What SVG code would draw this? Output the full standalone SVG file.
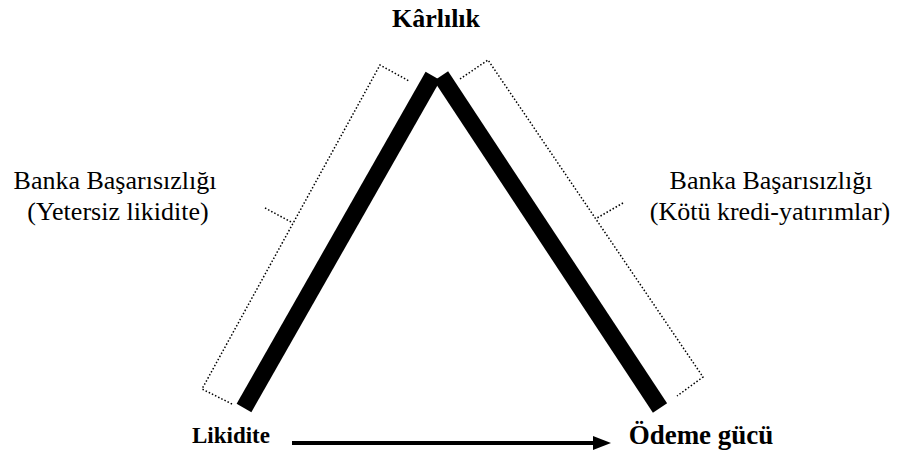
<svg xmlns="http://www.w3.org/2000/svg" width="898" height="453" viewBox="0 0 898 453">
<defs>
<style>
text{font-family:"Liberation Serif","Times New Roman",serif;fill:#000;text-anchor:middle}
.b{font-weight:bold}
.lab{font-size:26px}
.bar{stroke:#000;stroke-width:17;fill:none}
.dot{stroke:#000;stroke-width:1.5;stroke-dasharray:1.5 2;fill:none}
</style>
</defs>
<rect width="898" height="453" fill="#fff"/>
<g id="connectors">
<line class="bar" x1="244" y1="408" x2="433" y2="76"/>
<line class="bar" x1="441" y1="76" x2="660" y2="408"/>
<polyline class="dot" points="232,404 202,389 380,65 409,81"/>
<line class="dot" x1="265" y1="208" x2="293" y2="223"/>
<polyline class="dot" points="460,79 488,60 703,377 677,396"/>
<line class="dot" x1="623" y1="203" x2="597" y2="218"/>
<line x1="292" y1="443" x2="596" y2="443" stroke="#000" stroke-width="4"/>
<path d="M593,436 L611,443 L593,450 z" fill="#000"/>
</g>
<g id="karlilik"><text class="b" x="436" y="27" font-size="26">Kârlılık</text></g>
<g id="left-label">
<text class="lab" x="115" y="189">Banka Başarısızlığı</text>
<text class="lab" x="118" y="220">(Yetersiz likidite)</text>
</g>
<g id="right-label">
<text class="lab" x="771" y="189">Banka Başarısızlığı</text>
<text class="lab" x="770" y="220">(Kötü kredi-yatırımlar)</text>
</g>
<g id="likidite"><text class="b" x="231" y="443" font-size="23">Likidite</text></g>
<g id="odeme"><text class="b" x="701" y="444" font-size="27">Ödeme gücü</text></g>
</svg>
